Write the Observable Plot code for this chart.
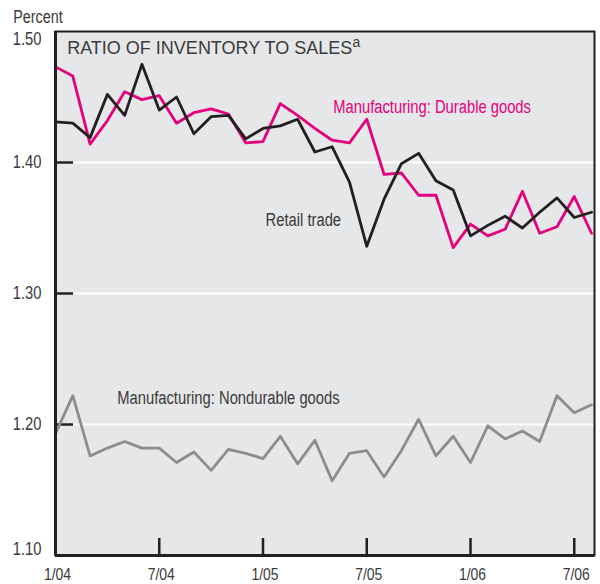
<!DOCTYPE html>
<html>
<head>
<meta charset="utf-8">
<script src="https://cdn.jsdelivr.net/npm/d3@7"></script>
<script src="https://cdn.jsdelivr.net/npm/@observablehq/plot@0.6"></script>
<style>
  body { margin: 0; background: #fff; }
  #chart svg { display: block; }
</style>
</head>
<body>
<div id="chart"></div>
<script>
// Months Jan 2004 .. Aug 2006 (index 0..31)
const months = ["2004-01","2004-02","2004-03","2004-04","2004-05","2004-06","2004-07","2004-08","2004-09","2004-10","2004-11","2004-12",
                "2005-01","2005-02","2005-03","2005-04","2005-05","2005-06","2005-07","2005-08","2005-09","2005-10","2005-11","2005-12",
                "2006-01","2006-02","2006-03","2006-04","2006-05","2006-06","2006-07","2006-08"];

const durable = [1.473,1.466,1.414,1.432,1.454,1.448,1.451,1.430,1.438,1.441,1.437,1.415,1.416,1.445,1.436,1.426,
                 1.417,1.415,1.433,1.391,1.392,1.375,1.375,1.335,1.353,1.344,1.349,1.378,1.346,1.351,1.374,1.346];
const retail = [1.431,1.430,1.419,1.452,1.436,1.475,1.440,1.450,1.422,1.435,1.436,1.418,1.426,1.428,1.433,1.408,
                1.412,1.385,1.336,1.372,1.399,1.407,1.386,1.379,1.344,1.352,1.359,1.350,1.362,1.373,1.358,1.362];
const nondurable = [1.193,1.222,1.176,1.182,1.187,1.182,1.182,1.171,1.179,1.165,1.181,1.178,1.174,1.191,1.170,1.188,
                    1.157,1.178,1.180,1.160,1.180,1.204,1.176,1.191,1.171,1.199,1.189,1.195,1.187,1.222,1.209,1.215];

const xTickMonths = ["2004-01","2004-07","2005-01","2005-07","2006-01","2006-07"];
const xTickLabels = ["1/04","7/04","1/05","7/05","1/06","7/06"];
const yTicks = [1.10, 1.20, 1.30, 1.40, 1.50];
const gridTicks = [1.20, 1.30, 1.40];

const seriesLabels = [
  {text: "Manufacturing: Durable goods", month: 16.06, value: 1.4375, color: "#e5007e"},
  {text: "Retail trade", month: 12.15, value: 1.3515, color: "#3a3a3a"},
  {text: "Manufacturing: Nondurable goods", month: 3.57, value: 1.2155, color: "#3a3a3a"}
];

const title = "RATIO OF INVENTORY TO SALES";
const titleNote = "a";
const unitLabel = "Percent";

const toRows = (arr) => arr.map((v, i) => ({i, month: months[i], v}));
const xTickPos = xTickMonths.map(m => months.indexOf(m));

const regular = '"Liberation Sans", Arial, Helvetica, sans-serif';
const NARROW = 0.82; // horizontal condensing to mimic a narrow face
const ink = "#231f20";
const textInk = "#3a3a3a";

const chart = Plot.plot({
  width: 600,
  height: 584,
  marginLeft: 55,
  marginRight: 6,
  marginTop: 31,
  marginBottom: 29,
  style: {fontFamily: regular, fontSize: "18px", color: textInk, background: "#fff"},
  x: {domain: [0, 31.17], axis: null},
  y: {domain: [1.10, 1.50], axis: null},
  marks: [
    Plot.frame({fill: "#e6e7e8", stroke: null}),
    Plot.gridY(gridTicks, {stroke: "#ffffff", strokeOpacity: 1, strokeWidth: 2}),
    Plot.axisY(gridTicks, {tickSize: -18, fill: "none", stroke: ink, strokeWidth: 2.5, label: null}),
    Plot.axisX(xTickPos.slice(1), {tickSize: -17, fill: "none", stroke: ink, strokeWidth: 2.5, label: null}),
    Plot.line(toRows(nondurable), {x: "i", y: "v", stroke: "#8d8d8d", strokeWidth: 2.8}),
    Plot.line(toRows(durable), {x: "i", y: "v", stroke: "#e5007e", strokeWidth: 2.8}),
    Plot.line(toRows(retail), {x: "i", y: "v", stroke: ink, strokeWidth: 2.8}),
    Plot.frame({stroke: ink, strokeWidth: 2}),
    Plot.ruleX([0], {stroke: ink, strokeWidth: 3}),
    Plot.ruleY([1.10], {stroke: ink, strokeWidth: 3}),
    // y tick labels
    Plot.axisY(yTicks.slice(1, 4), {tickSize: 0, tickPadding: 14, tickFormat: d => d.toFixed(2), fill: textInk, fontSize: 18, label: null}),
    Plot.axisY([yTicks[4]], {tickSize: 0, tickPadding: 14, tickFormat: d => d.toFixed(2), fill: textInk, fontSize: 18, dy: 8, label: null}),
    Plot.axisY([yTicks[0]], {tickSize: 0, tickPadding: 14, tickFormat: d => d.toFixed(2), fill: textInk, fontSize: 18, dy: -6, label: null}),
    // x tick labels
    Plot.axisX(xTickPos, {tickSize: 0, tickPadding: 12, tickFormat: d => xTickLabels[xTickPos.indexOf(d)], fill: textInk, fontSize: 17, dx: 2, label: null}),
    // unit label
    Plot.text([unitLabel], {frameAnchor: "top-left", dx: -42.3, dy: -8.3, lineAnchor: "bottom", textAnchor: "start", fontSize: 17.5, fill: textInk}),
    // title
    Plot.text([title], {frameAnchor: "top-left", dx: 11.7, dy: 22.3, lineAnchor: "bottom", textAnchor: "start", fontSize: 18, fill: textInk}),
    Plot.text([titleNote], {frameAnchor: "top-left", dx: 297, dy: 15.7, lineAnchor: "bottom", textAnchor: "start", fontSize: 14, fill: textInk}),
    // series labels
    Plot.text(seriesLabels, {x: "month", y: "value", text: "text", fill: "color", textAnchor: "start", lineAnchor: "bottom", fontSize: 18})
  ]
});
document.getElementById("chart").appendChild(chart);

// Condense every text except the title into a narrow face look
chart.querySelectorAll("text").forEach(t => {
  if (t.textContent === title || t.textContent === titleNote) return;
  const w = t.getComputedTextLength();
  t.setAttribute("textLength", (w * NARROW).toFixed(2));
  t.setAttribute("lengthAdjust", "spacingAndGlyphs");
});
</script>
</body>
</html>
